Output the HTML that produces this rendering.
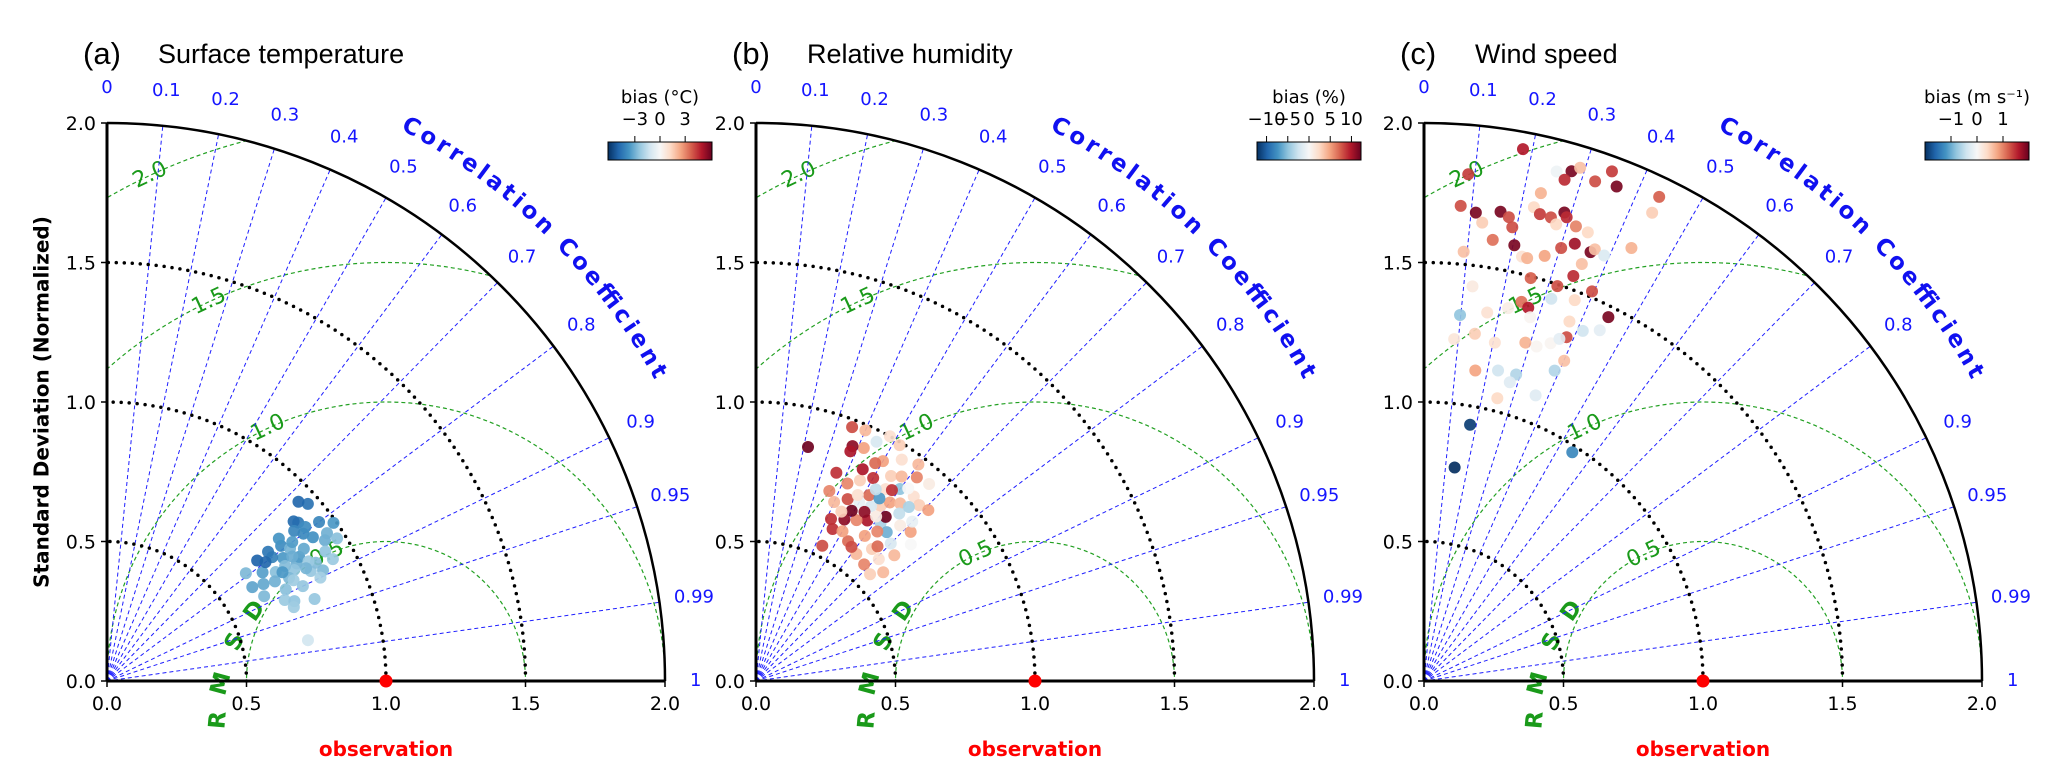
<!DOCTYPE html>
<html><head><meta charset="utf-8">
<style>
html,body{margin:0;padding:0;background:#fff;overflow:hidden;width:2067px;height:774px;}
svg{display:block;vertical-align:top;}
</style></head>
<body>
<svg id="chart" width="2067" height="774" xmlns="http://www.w3.org/2000/svg">
<defs>
<linearGradient id="rdbu" x1="0" x2="1" y1="0" y2="0">
<stop offset="0" stop-color="#053061"/><stop offset="0.1" stop-color="#2166ac"/><stop offset="0.2" stop-color="#4393c3"/><stop offset="0.3" stop-color="#92c5de"/><stop offset="0.4" stop-color="#d1e5f0"/><stop offset="0.5" stop-color="#f7f7f7"/><stop offset="0.6" stop-color="#fddbc7"/><stop offset="0.7" stop-color="#f4a582"/><stop offset="0.8" stop-color="#d6604d"/><stop offset="0.9" stop-color="#b2182b"/><stop offset="1" stop-color="#67001f"/>
</linearGradient>
</defs>
</svg>
<script>
// ---- data ----
const corrTicks = [0,0.1,0.2,0.3,0.4,0.5,0.6,0.7,0.8,0.9,0.95,0.99,1];
const corrLines = [0.1,0.2,0.3,0.4,0.5,0.6,0.7,0.8,0.9,0.95,0.99];
const stdTicks = [0,0.5,1.0,1.5,2.0];
const stdTickLabels = ["0.0","0.5","1.0","1.5","2.0"];
const stdArcs = [0.5,1.0,1.5];
const rmsdLevels = [0.5,1.0,1.5,2.0];
const rmsdLabels = ["0.5","1.0","1.5","2.0"];
const panelLetters = ["(a)","(b)","(c)"];
const panelTitles = ["Surface temperature","Relative humidity","Wind speed"];
const cbarLabels = ["bias (°C)","bias (%)","bias (m s⁻¹)"];
const cbarTicksA = [-3,0,3];
const cbarTicksB = [-10,-5,0,5,10];
const cbarTicksC = [-1,0,1];
const cbarRanges = [6.2,12.25,2.0];

const stdA = [.80,.78,.82,.75,.85,.88,.72,.70,.90,.83,.77,.74,.86,.93,.68,.79,.81,.84,.76,.72,.87,.91,.66,.89,.88,.86,.80,.74,.71,.69,.95,.97,.92,.85,.78,.70,.64,.62,.83,.76,.80,.74,.90,.95,.99,.82,.73,.735,.96,.94,.80,.72,.63];
const corrA = [.85,.86,.84,.87,.83,.80,.84,.86,.82,.88,.82,.80,.87,.84,.82,.79,.81,.86,.88,.89,.89,.86,.85,.77,.76,.78,.77,.78,.80,.78,.83,.85,.88,.90,.90,.91,.88,.84,.80,.84,.83,.85,.79,.80,.82,.87,.92,.98,.75,.73,.93,.93,.79];
const biasA = [-3,-2.5,-3.5,-2.8,-3.2,-4,-2.6,-3,-3.8,-2.4,-3.6,-4.2,-2.7,-3.1,-3.4,-3.9,-2.9,-2.3,-2.2,-2.6,-2.8,-2.5,-3.2,-4.4,-4.8,-4.1,-3.7,-4.5,-4.9,-5,-3,-2.6,-2.3,-2.1,-2.4,-2.3,-2.8,-3.3,-3.5,-2.7,-3.1,-3.6,-3.9,-4.1,-3.6,-2.9,-2.5,-1.2,-4.6,-4.9,-2.4,-2.2,-2.8];

const stdB = [.859,.973,.54,.61,.77,.75,.80,.72,.78,.83,.70,.74,.82,.86,.68,.79,.76,.88,.65,.71,.84,.90,.66,.73,.81,.87,.69,.63,.77,.60,.58,.93,.95,.91,.85,.78,.70,.64,.80,.74,.67,.62,.57,.86,.94,.89,.96,.92,.99,.97,.75,.79,.72,.83,.76,.69,.88,.81,.65,.73,.84,.62,.59,.70,.68,.91,.98,1.0,.56,.60,.89,.73,.87,.80];
const corrB = [.217,.354,.44,.45,.58,.55,.60,.62,.52,.56,.57,.50,.63,.60,.53,.65,.68,.55,.60,.66,.50,.58,.48,.45,.46,.65,.70,.66,.72,.55,.62,.62,.55,.50,.45,.42,.40,.42,.70,.75,.74,.71,.68,.68,.66,.48,.45,.42,.52,.60,.62,.56,.54,.66,.48,.63,.62,.53,.67,.59,.58,.50,.58,.49,.45,.38,.40,.48,.73,.76,.38,.36,.71,.36];
const biasB = [12,8,8,9,3,-2,5,-4,7,2,10,-1,4,-5,6,-3,1,3,5,-6,9,4,11,8,3,2,-2,3,5,7,4,6,2,5,10,6,4,9,-1,0,4,2,6,3,1,7,-2,5,3,4,12,-7,11,-4,2,6,0,-3,7,1,9,5,8,12,3,11,4,2,3,4,10,6,5,9];

const stdC = [1.939,1.823,1.887,1.902,1.923,1.866,1.893,1.947,1.902,1.929,1.867,1.708,1.689,1.704,1.690,1.656,1.657,1.798,1.743,1.724,1.723,1.753,1.739,1.704,1.718,1.712,1.600,1.595,1.545,1.658,1.628,1.649,1.664,1.721,1.656,1.584,1.561,1.560,1.598,1.547,1.494,1.425,1.494,1.521,1.444,1.468,1.403,1.389,1.318,1.340,1.370,1.462,1.358,1.390,1.378,1.406,1.258,1.230,1.239,1.266,1.334,1.265,1.293,1.319,1.253,1.128,1.144,1.147,1.207,1.114,1.047,1.099,.933,.977,.773];
const corrC = [.183,.087,.252,.278,.291,.27,.324,.346,.363,.437,.438,.077,.11,.161,.18,.126,.191,.233,.226,.241,.264,.287,.294,.278,.317,.343,.154,.203,.092,.326,.302,.362,.368,.432,.39,.273,.225,.237,.354,.346,.256,.122,.32,.396,.316,.368,.249,.269,.098,.169,.22,.452,.28,.375,.413,.448,.145,.088,.205,.287,.383,.319,.351,.368,.401,.163,.232,.288,.388,.276,.251,.364,.177,.544,.142];
const biasC = [1.6,1.4,-0.1,1.9,0.6,1.5,1.3,1.4,1.9,1.2,0.5,1.3,1.9,1.9,1.3,0.5,1.3,0.7,0.4,1.4,1.3,1.9,1.5,0.4,1.0,0.4,1.1,1.9,0.6,1.7,1.3,1.9,0.6,0.7,-0.3,0.8,0.3,0.7,0.6,1.5,1.2,0.2,1.3,1.3,-0.4,0.4,1.1,1.6,-0.8,0.3,0.15,1.9,0.05,0.4,-0.4,-0.2,0.5,0.25,0.3,0.7,1.3,0.05,0.05,-0.2,0.6,0.8,-0.4,-0.6,-0.6,-0.25,0.4,-0.25,-1.9,-1.3,-2.0];

// ---- layout ----
const NS = "http://www.w3.org/2000/svg";
const svg = document.getElementById('chart');
const OX = [107,756,1424];
const OY = 681;
const U = 279;
const FONT = '"DejaVu Sans", "Liberation Sans", sans-serif';

function mk(tag, attrs, parent){
  const el = document.createElementNS(NS, tag);
  for (const k in attrs) el.setAttribute(k, attrs[k]);
  (parent || svg).appendChild(el);
  return el;
}
function px(ox, std, c){ return ox + std*c*U; }
function py(std, c){ return OY - std*Math.sqrt(Math.max(0,1-c*c))*U; }

const cmap = ["#053061","#2166ac","#4393c3","#92c5de","#d1e5f0","#f7f7f7","#fddbc7","#f4a582","#d6604d","#b2182b","#67001f"];
function hex(h){return [parseInt(h.substr(1,2),16),parseInt(h.substr(3,2),16),parseInt(h.substr(5,2),16)];}
function colorFor(v, range){
  let t = (v/range + 1)/2; t = Math.max(0, Math.min(1, t));
  const f = t*10, i = Math.min(9, Math.floor(f)), r = f - i;
  const a = hex(cmap[i]), b = hex(cmap[i+1]);
  return 'rgb(' + a.map((x,k)=>Math.round(x+(b[k]-x)*r)).join(',') + ')';
}

const datasets = [[stdA,corrA,biasA],[stdB,corrB,biasB],[stdC,corrC,biasC]];
const cbarTickSets = [cbarTicksA,cbarTicksB,cbarTicksC];

for (let p=0; p<3; p++){
  const ox = OX[p];
  const g = mk('g', {});
  
  

  const clip = mk('clipPath', {id:'clip'+p}, svg.querySelector('defs'));
  mk('path', {d:`M${ox},${OY} L${ox+2*U},${OY} A${2*U},${2*U} 0 0 0 ${ox},${OY-2*U} Z`}, clip);

  const lt = mk('text', {x:ox-24, y:64, 'font-family':'"Liberation Sans", sans-serif', 'font-size':31, fill:'#000'}, g);
  lt.textContent = panelLetters[p];
  
  
  const tt = mk('text', {x:ox+51, y:63, 'font-family':'"Liberation Sans", sans-serif', 'font-size':27, fill:'#000'}, g);
  tt.textContent = panelTitles[p];
  
  

  const rg = mk('g', {'clip-path':`url(#clip${p})`}, g);
  
  
  rmsdLevels.forEach((r,i)=>{
    const c = mk('circle', {cx:ox+U, cy:OY, r:r*U, fill:'none', stroke:'#22a022', 'stroke-width':1.2, 'stroke-dasharray':'4 3'}, rg);
    
    
  });
  rmsdLevels.forEach((r,i)=>{
    const th = 115*Math.PI/180;
    const x = ox + U + r*U*Math.cos(th), y = OY - r*U*Math.sin(th);
    const t = mk('text', {x:x, y:y, 'font-family':FONT, 'font-size':22, fill:'#1a9a1a', 'text-anchor':'middle', 'dominant-baseline':'middle', transform:`rotate(-25 ${x} ${y})`}, g);
    t.textContent = rmsdLabels[i];
    
    
  });
  const rm = [['R',.40,-.14,-85],['M',.41,-.01,-75],['S',.46,.14,-62],['D',.53,.25,-55]];
  rm.forEach(q=>{
    const x = ox + q[1]*U, y = OY - q[2]*U;
    const t = mk('text', {x:x, y:y, 'font-family':FONT, 'font-size':23, 'font-weight':'bold', fill:'#1a9a1a', 'text-anchor':'middle', 'dominant-baseline':'middle', transform:`rotate(${q[3]} ${x} ${y})`}, g);
    t.textContent = q[0];
    
    
  });

  corrLines.forEach(c=>{
    const l = mk('line', {x1:ox, y1:OY, x2:px(ox,2,c), y2:py(2,c), stroke:'#1f1fff', 'stroke-width':1, 'stroke-dasharray':'4 3'}, g);
    
    
  });
  corrTicks.forEach(c=>{
    const rr = (c===1)?2.11:2.125;
    const x = px(ox,rr,c), y = py(rr,c);
    const t = mk('text', {x:x, y:y, 'font-family':FONT, 'font-size':18, fill:'#1515ff', 'text-anchor':'middle', 'dominant-baseline':'middle'}, g);
    t.textContent = String(c);
    
    
  });

  stdArcs.forEach(s=>{
    const a = mk('path', {d:`M${ox+s*U},${OY} A${s*U},${s*U} 0 0 0 ${ox},${OY-s*U}`, fill:'none', stroke:'#000', 'stroke-width':3.5, 'stroke-linecap':'round', 'stroke-dasharray':'0 8'}, g);
    
    
  });

  const oa = mk('path', {d:`M${ox+2*U},${OY} A${2*U},${2*U} 0 0 0 ${ox},${OY-2*U}`, fill:'none', stroke:'#000', 'stroke-width':2.5}, g);
  
  
  const xa = mk('line', {x1:ox, y1:OY, x2:ox+2*U, y2:OY, stroke:'#000', 'stroke-width':3}, g);
  
  
  const ya = mk('line', {x1:ox, y1:OY, x2:ox, y2:OY-2*U, stroke:'#000', 'stroke-width':3}, g);
  
  

  stdTicks.forEach((s,i)=>{
    const tk = mk('line', {x1:ox+s*U, y1:OY, x2:ox+s*U, y2:OY+6, stroke:'#000', 'stroke-width':1.5}, g);
    
    
    const tl = mk('text', {x:ox+s*U, y:OY+29, 'font-family':FONT, 'font-size':19, fill:'#000', 'text-anchor':'middle'}, g);
    tl.textContent = stdTickLabels[i];
    
    
    const yk = mk('line', {x1:ox-6, y1:OY-s*U, x2:ox, y2:OY-s*U, stroke:'#000', 'stroke-width':1.5}, g);
    
    
    const yl = mk('text', {x:ox-11, y:OY-s*U+7, 'font-family':FONT, 'font-size':19, fill:'#000', 'text-anchor':'end'}, g);
    yl.textContent = stdTickLabels[i];
    
    
  });

  const R = 625, a1 = 62*Math.PI/180, a2 = 28*Math.PI/180;
  const cp = mk('path', {id:'cc'+p, d:`M${ox+R*Math.cos(a1)},${OY-R*Math.sin(a1)} A${R},${R} 0 0 1 ${ox+R*Math.cos(a2)},${OY-R*Math.sin(a2)}`, fill:'none', stroke:'none'}, g);
  
  
  const ct = mk('text', {'font-family':FONT, 'font-size':23, 'font-weight':'bold', fill:'#1010f0'}, g);
  
  
  const tp = mk('textPath', {href:'#cc'+p, textLength:362, lengthAdjust:'spacing'}, ct);
  tp.textContent = 'Correlation Coefficient';

  const [S,C,B] = datasets[p];
  const n = Math.min(S.length, C.length, B.length);
  for (let i=0;i<n;i++){
    const d = mk('circle', {cx:px(ox,S[i],C[i]), cy:py(S[i],C[i]), r:6, fill:colorFor(B[i], cbarRanges[p]), 'fill-opacity':0.92}, g);
    
    
  }

  const ob = mk('circle', {cx:ox+U, cy:OY, r:6.5, fill:'#ff0000'}, g);
  
  
  const ol = mk('text', {x:ox+U, y:756, 'font-family':FONT, 'font-size':20, 'font-weight':'bold', fill:'#ff0000', 'text-anchor':'middle'}, g);
  ol.textContent = 'observation';
  
  

  const bx = ox+501, bw = 104, by = 142, bh = 18;
  const cb = mk('rect', {x:bx, y:by, width:bw, height:bh, fill:'url(#rdbu)', stroke:'#000', 'stroke-width':1}, g);
  
  
  cbarTickSets[p].forEach(v=>{
    const x = bx + (v + cbarRanges[p])/(2*cbarRanges[p])*bw;
    const k = mk('line', {x1:x, y1:by-6, x2:x, y2:by, stroke:'#000', 'stroke-width':1}, g);
    
    
    const l = mk('text', {x:x, y:125, 'font-family':FONT, 'font-size':18, fill:'#000', 'text-anchor':'middle'}, g);
    l.textContent = (v<0?'−':'') + Math.abs(v);
    
    
  });
  const cl = mk('text', {x:bx+bw/2, y:103, 'font-family':FONT, 'font-size':18, fill:'#000', 'text-anchor':'middle'}, g);
  cl.textContent = cbarLabels[p];
  
  
}

const yt = mk('text', {x:43, y:402, 'font-family':FONT, 'font-size':20, 'font-weight':'bold', fill:'#000', 'text-anchor':'middle', 'dominant-baseline':'middle', transform:'rotate(-90 43 402)'});
yt.textContent = 'Standard Deviation (Normalized)';


</script>
</body></html>
